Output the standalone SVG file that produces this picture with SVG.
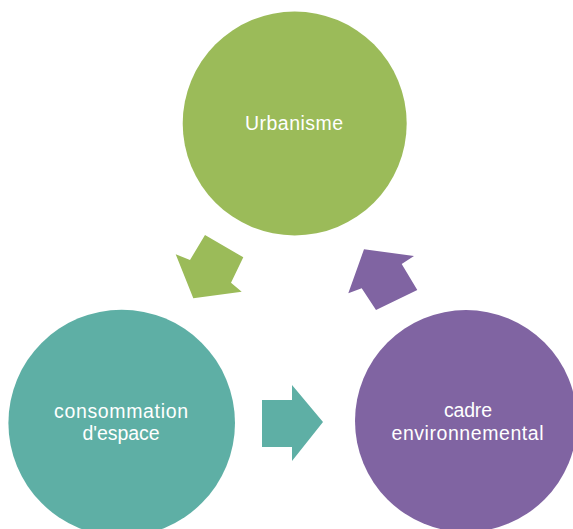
<svg xmlns="http://www.w3.org/2000/svg" width="573" height="529" viewBox="0 0 573 529">
<style>
.lbl{font-family:"Liberation Sans",Arial,sans-serif;font-size:19.5px;fill:#ffffff;text-anchor:middle;font-variant-ligatures:none}
.g{fill:#9BBB59}.t{fill:#5EAFA5}.p{fill:#8064A2}
</style>
<rect width="573" height="529" fill="#ffffff"/>
<g id="urbanisme">
<circle class="g" cx="294.7" cy="123.5" r="112"/>
<text class="lbl" x="294" y="130" textLength="98" lengthAdjust="spacing">Urbanisme</text>
</g>
<g id="consommation">
<circle class="t" cx="121.7" cy="423" r="113.3"/>
<text class="lbl" x="121" y="418" textLength="134" lengthAdjust="spacing">consommation</text>
<text class="lbl" x="121" y="440" textLength="77" lengthAdjust="spacing">d'espace</text>
</g>
<g id="cadre">
<circle class="p" cx="466" cy="421" r="111"/>
<text class="lbl" x="468" y="417" textLength="48" lengthAdjust="spacing">cadre</text>
<text class="lbl" x="467.5" y="440" textLength="152" lengthAdjust="spacing">environnemental</text>
</g>
<g id="connectors">
<polygon class="g" points="205,235 243.3,257.3 231,282.7 241.7,291.7 193.3,298.3 175.7,254.3 190,260"/>
<polygon class="t" points="262,400 292,400 292,385 323,422 292,461 292,447 262,447"/>
<polygon class="p" points="376,310 417.3,290 401.7,264 414,256 364,249.3 348.3,293.3 361.7,288.3"/>
</g>
</svg>
